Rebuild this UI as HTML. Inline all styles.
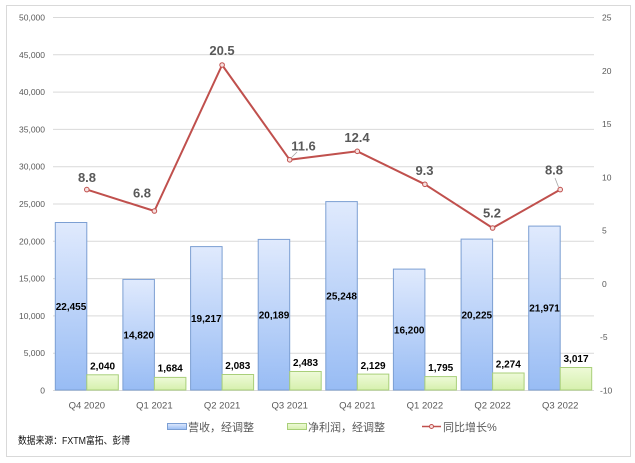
<!DOCTYPE html>
<html><head><meta charset="utf-8"><style>
html,body{margin:0;padding:0;background:#fff;}
svg{display:block;}
text{font-family:"Liberation Sans","Noto Sans CJK SC",sans-serif;}
</style></head><body>
<svg width="635" height="463" viewBox="0 0 635 463" xmlns="http://www.w3.org/2000/svg">
<defs>
<linearGradient id="gb" x1="0" y1="0" x2="0" y2="1"><stop offset="0" stop-color="#e0eafd"/><stop offset="1" stop-color="#98bcf4"/></linearGradient>
<linearGradient id="gg" x1="0" y1="0" x2="0" y2="1"><stop offset="0" stop-color="#eefad8"/><stop offset="1" stop-color="#d6f0ad"/></linearGradient>
</defs>
<rect x="6.5" y="5.5" width="624" height="451" fill="#fff" stroke="#d9d9d9"/>
<g stroke="#d9d9d9" stroke-width="1">
<line x1="53" x2="594" y1="17.5" y2="17.5"/>
<line x1="53" x2="594" y1="54.8" y2="54.8"/>
<line x1="53" x2="594" y1="92.1" y2="92.1"/>
<line x1="53" x2="594" y1="129.4" y2="129.4"/>
<line x1="53" x2="594" y1="166.7" y2="166.7"/>
<line x1="53" x2="594" y1="204" y2="204"/>
<line x1="53" x2="594" y1="241.3" y2="241.3"/>
<line x1="53" x2="594" y1="278.6" y2="278.6"/>
<line x1="53" x2="594" y1="315.9" y2="315.9"/>
<line x1="53" x2="594" y1="353.2" y2="353.2"/>
<line x1="53" x2="594" y1="390.5" y2="390.5"/>
</g>
<g font-size="8.5" fill="#595959" text-anchor="end">
<text x="45" y="20.5">50,000</text>
<text x="45" y="57.8">45,000</text>
<text x="45" y="95.1">40,000</text>
<text x="45" y="132.4">35,000</text>
<text x="45" y="169.7">30,000</text>
<text x="45" y="207">25,000</text>
<text x="45" y="244.3">20,000</text>
<text x="45" y="281.6">15,000</text>
<text x="45" y="318.9">10,000</text>
<text x="45" y="356.2">5,000</text>
<text x="45" y="393.5">0</text>
</g>
<g font-size="8.5" fill="#595959" text-anchor="start">
<text x="602" y="20.5">25</text>
<text x="602" y="73.8">20</text>
<text x="602" y="127.1">15</text>
<text x="602" y="180.4">10</text>
<text x="602" y="233.6">5</text>
<text x="602" y="286.9">0</text>
<text x="600" y="340.2">-5</text>
<text x="600" y="393.5">-10</text>
</g>
<!-- bars -->
<g stroke="#7c9fd3" stroke-width="1" fill="url(#gb)">
<rect x="55.3" y="222.5" width="31.5" height="167.5"/>
<rect x="122.9" y="279.4" width="31.5" height="110.6"/>
<rect x="190.6" y="246.6" width="31.5" height="143.4"/>
<rect x="258.2" y="239.4" width="31.5" height="150.6"/>
<rect x="325.8" y="201.6" width="31.5" height="188.4"/>
<rect x="393.4" y="269.1" width="31.5" height="120.9"/>
<rect x="461.1" y="239.1" width="31.5" height="150.9"/>
<rect x="528.7" y="226.1" width="31.5" height="163.9"/>
</g>
<g stroke="#a9cf7a" stroke-width="1" fill="url(#gg)">
<rect x="86.8" y="374.8" width="31.5" height="15.2"/>
<rect x="154.4" y="377.4" width="31.5" height="12.6"/>
<rect x="222.1" y="374.5" width="31.5" height="15.5"/>
<rect x="289.7" y="371.5" width="31.5" height="18.5"/>
<rect x="357.3" y="374.1" width="31.5" height="15.9"/>
<rect x="424.9" y="376.6" width="31.5" height="13.4"/>
<rect x="492.6" y="373" width="31.5" height="17"/>
<rect x="560.2" y="367.5" width="31.5" height="22.5"/>
</g>
<g font-size="10" font-weight="bold" fill="#000" text-anchor="middle">
<text x="71" y="310">22,455</text>
<text x="138.7" y="338.5">14,820</text>
<text x="206.3" y="322">19,217</text>
<text x="274" y="318.5">20,189</text>
<text x="341.6" y="299.5">25,248</text>
<text x="409.2" y="333.5">16,200</text>
<text x="476.8" y="318.5">20,225</text>
<text x="544.5" y="311.5">21,971</text>
<text x="102.6" y="369.5">2,040</text>
<text x="170.2" y="371.5">1,684</text>
<text x="237.8" y="369">2,083</text>
<text x="305.5" y="366">2,483</text>
<text x="373.1" y="369">2,129</text>
<text x="440.7" y="371">1,795</text>
<text x="508.3" y="367.5">2,274</text>
<text x="576" y="362">3,017</text>
</g>
<!-- leader lines -->
<g stroke="#a6a6a6" stroke-width="0.8">
<line x1="290.5" y1="158.5" x2="297" y2="152"/>
<line x1="555" y1="178" x2="558.5" y2="187"/>
</g>
<polyline fill="none" stroke="#c0504d" stroke-width="2" stroke-linejoin="round" points="86.8,189.6 154.4,211 222.1,65 289.7,159.8 357.3,151.3 424.9,184.3 492.6,228 560.2,189.6"/>
<g fill="#f6e0df" stroke="#c0504d" stroke-width="1">
<circle cx="86.8" cy="189.6" r="2.3"/>
<circle cx="154.4" cy="211" r="2.3"/>
<circle cx="222.1" cy="65" r="2.3"/>
<circle cx="289.7" cy="159.8" r="2.3"/>
<circle cx="357.3" cy="151.3" r="2.3"/>
<circle cx="424.9" cy="184.3" r="2.3"/>
<circle cx="492.6" cy="228" r="2.3"/>
<circle cx="560.2" cy="189.6" r="2.3"/>
</g>
<g font-size="13" font-weight="bold" fill="#595959" text-anchor="middle">
<text x="87" y="182">8.8</text>
<text x="142" y="197.5">6.8</text>
<text x="222" y="55">20.5</text>
<text x="303.5" y="150.5">11.6</text>
<text x="357" y="142">12.4</text>
<text x="424.5" y="175">9.3</text>
<text x="492" y="217.5">5.2</text>
<text x="554" y="174.5">8.8</text>
</g>
<g font-size="9.5" fill="#595959" text-anchor="middle">
<text x="86.8" y="408.5">Q4 2020</text>
<text x="154.4" y="408.5">Q1 2021</text>
<text x="222.1" y="408.5">Q2 2021</text>
<text x="289.7" y="408.5">Q3 2021</text>
<text x="357.3" y="408.5">Q4 2021</text>
<text x="424.9" y="408.5">Q1 2022</text>
<text x="492.6" y="408.5">Q2 2022</text>
<text x="560.2" y="408.5">Q3 2022</text>
</g>
<!-- legend -->
<rect x="167.5" y="423.5" width="19" height="6" fill="url(#gb)" stroke="#7c9fd3"/>
<text x="188" y="431" font-size="11" fill="#595959">营收，经调整</text>
<rect x="287.5" y="423.5" width="19" height="6" fill="url(#gg)" stroke="#a9cf7a"/>
<text x="308" y="431" font-size="11" fill="#595959">净利润，经调整</text>
<line x1="422" y1="426.5" x2="441" y2="426.5" stroke="#c0504d" stroke-width="1.5"/>
<circle cx="431.5" cy="426.5" r="2" fill="#f6e0df" stroke="#c0504d" stroke-width="1"/>
<text x="443" y="431" font-size="11" fill="#595959">同比增长%</text>
<text x="18" y="444" font-size="10" fill="#111" textLength="112" lengthAdjust="spacingAndGlyphs">数据来源：FXTM富拓、彭博</text>
</svg>
</body></html>
